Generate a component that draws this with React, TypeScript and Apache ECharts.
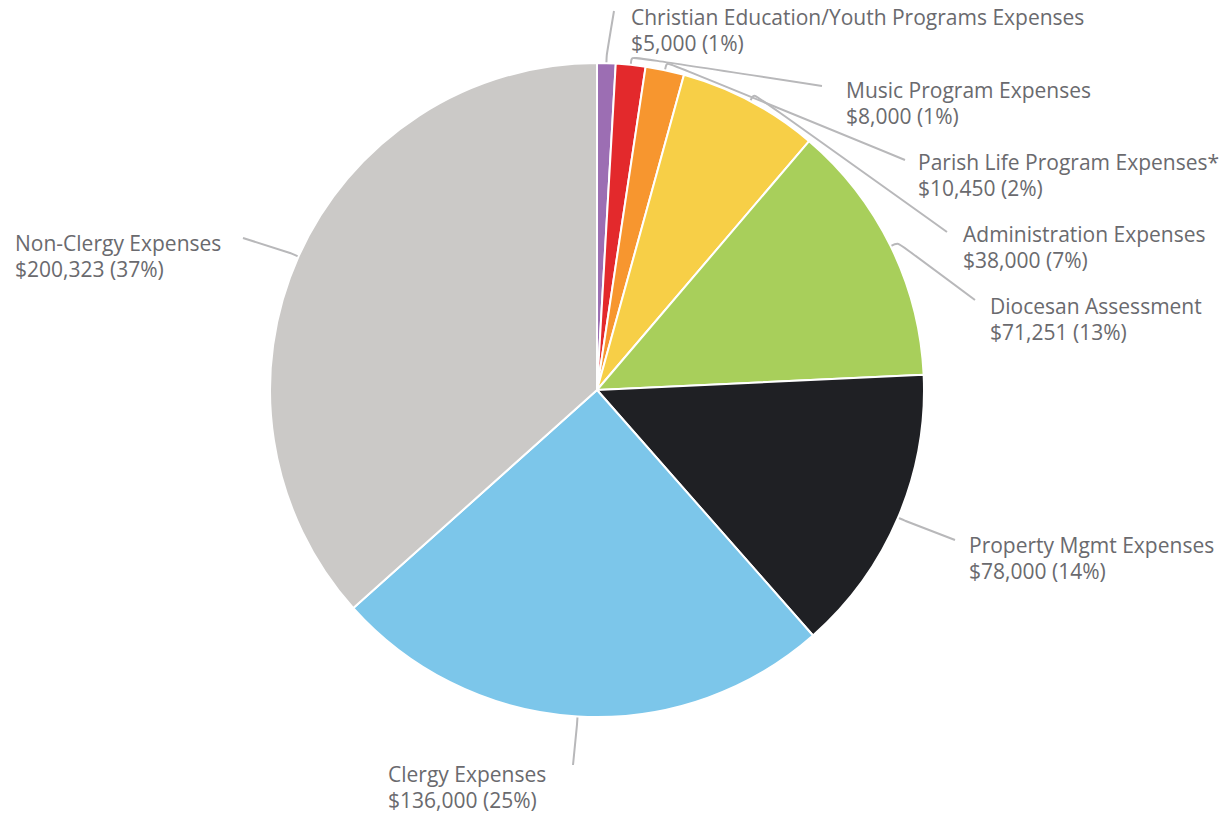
import React, { useEffect, useRef } from "react";
import * as echarts from "echarts";

const categories = [
  "Christian Education/Youth Programs Expenses",
  "Music Program Expenses",
  "Parish Life Program Expenses*",
  "Administration Expenses",
  "Diocesan Assessment",
  "Property Mgmt Expenses",
  "Clergy Expenses",
  "Non-Clergy Expenses",
];
const values = [5000, 8000, 10450, 38000, 71251, 78000, 136000, 200323];
const colors = ["#9c6eb3", "#e3292c", "#f7962f", "#f7cf47", "#a8cf5b", "#1f2024", "#7cc6ea", "#cbc9c7"];

// label placement (layout only): left x, first-line center y, line end point
const labelPos = [
  { x: 631, y1: 17, ex: 614, ey: 11 },
  { x: 846, y1: 90, ex: 822, ey: 86 },
  { x: 918, y1: 162, ex: 905, ey: 160 },
  { x: 963, y1: 234, ex: 947, ey: 232 },
  { x: 990, y1: 306, ex: 975, ey: 300 },
  { x: 969, y1: 545, ex: 955, ey: 540 },
  { x: 388, y1: 774, ex: 573, ey: 765 },
  { x: 15, y1: 243, ex: 243, ey: 238 },
];

const CX = 597;
const CY = 390;
const LH = 26;

export default function App() {
  const ref = useRef<HTMLDivElement>(null);
  useEffect(() => {
    if (!ref.current) return;
    const chart = echarts.init(ref.current, null, { renderer: "svg" });
    chart.setOption({
      animation: false,
      backgroundColor: "#ffffff",
      series: [
        {
          type: "pie",
          center: [CX, CY],
          radius: 327,
          startAngle: 90,
          clockwise: true,
          avoidLabelOverlap: false,
          data: categories.map((name, i) => ({
            name,
            value: values[i],
            itemStyle: { color: colors[i] },
          })),
          itemStyle: { borderColor: "#ffffff", borderWidth: 2 },
          label: {
            show: true,
            position: "outside",
            width: 480,
            overflow: "none",
            fontFamily: "Open Sans",
            fontSize: 21,
            lineHeight: LH,
            color: "#6a6a6e",
            formatter: (p: any) =>
              `${p.name}\n$${Number(p.value).toLocaleString("en-US")} (${Math.round(p.percent)}%)`,
          },
          labelLine: {
            show: true,
            length: 10,
            length2: 10,
            smooth: 0.3,
            lineStyle: { color: "#b8b8ba", width: 2 },
          },
          labelLayout: (params: any) => {
            const lp = labelPos[params.dataIndex];
            const pts = params.labelLinePoints;
            let linePts;
            if (pts && pts.length) {
              const p0 = pts[0];
              const dx = p0[0] - CX;
              const dy = p0[1] - CY;
              const len = Math.sqrt(dx * dx + dy * dy) || 1;
              const p1 = [p0[0] + (dx / len) * 8, p0[1] + (dy / len) * 8];
              linePts = [p0, p1, [lp.ex, lp.ey]];
            }
            return {
              x: lp.x,
              y: lp.y1 - LH / 2,
              align: "left",
              verticalAlign: "top",
              labelLinePoints: linePts,
            };
          },
        },
      ],
    });
    return () => chart.dispose();
  }, []);
  return (
    <div
      ref={ref}
      style={{ position: "fixed", left: 0, top: 0, width: 1226, height: 814 }}
    />
  );
}
